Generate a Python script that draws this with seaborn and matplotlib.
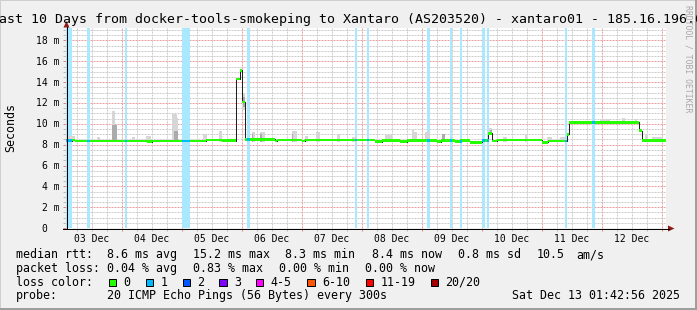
import numpy as np
import pandas as pd
import matplotlib
matplotlib.use("Agg")
import matplotlib.pyplot as plt
import matplotlib.dates as mdates
from matplotlib.ticker import MultipleLocator
from matplotlib.transforms import blended_transform_factory, ScaledTranslation
from matplotlib.patches import Rectangle, Polygon
from matplotlib.lines import Line2D
import seaborn as sns

# ---------------- data ----------------
START = pd.Timestamp("2025-12-03 01:42:56")
END = START + pd.Timedelta(days=10)

# median rtt (step changes): hours since start, ms
med_hours = [0, 2.4, 3.6, 32.4, 34.4, 56.0, 62.4, 68.0, 69.6, 70.3, 71.4, 83.6, 84.4,
             94.4, 95.6, 123.6, 126.3, 133.6, 136.3, 148.4, 150.0, 155.6, 157.6, 161.6,
             166.3, 168.9, 170.3, 172.3, 190.3, 192.9, 200.3, 201.3, 229.3, 230.3, 240.0]
med_ms = [8.40, 8.45, 8.35, 8.28, 8.35, 8.45, 8.40, 14.30, 15.15, 12.10, 8.50, 8.35, 8.45,
          8.35, 8.45, 8.30, 8.40, 8.30, 8.40, 8.30, 8.40, 8.30, 8.40, 8.25,
          8.40, 9.10, 8.35, 8.45, 8.22, 8.35, 9.00, 10.15, 9.35, 8.40, 8.40]

# intervals with 1 lost ping (hours since start)
loss_start = [0.0, 8.4, 23.6, 46.3, 72.3, 115.6, 120.3, 144.4, 153.6, 157.5, 166.4, 168.3, 199.7, 210.4]
loss_end = [2.3, 9.6, 24.4, 49.6, 73.6, 116.5, 121.3, 145.5, 154.4, 158.4, 167.5, 169.3, 200.5, 211.6]

# smoke (spread of pings): light layer
smoke_t0 = [0.0, 12.3, 18.3, 19.6, 26.3, 32.0, 42.3, 44.3, 54.8, 61.2, 70.3, 74.3, 77.6, 90.3,
            95.6, 100.0, 108.3, 114.3, 127.6, 138.3, 139.2, 143.6, 150.3, 169.2, 174.8, 183.6,
            192.4, 197.6, 213.6, 222.3, 227.6, 231.6, 234.3]
smoke_t1 = [3.6, 13.6, 19.6, 20.4, 27.6, 33.9, 44.3, 44.8, 56.4, 62.4, 71.4, 75.6, 79.6, 92.3,
            96.8, 101.6, 109.6, 116.3, 130.3, 139.2, 140.3, 145.6, 151.6, 170.4, 176.4, 184.4,
            194.4, 199.6, 217.6, 223.6, 228.4, 232.8, 238.8]
smoke_lo = [8.3, 8.3, 8.3, 8.3, 8.3, 8.3, 8.3, 8.3, 8.3, 8.3, 11.35, 8.3, 8.3, 8.3,
            8.3, 8.3, 8.3, 8.3, 8.3, 8.3, 8.3, 8.3, 8.3, 9.1, 8.3, 8.3,
            8.3, 8.3, 10.1, 10.1, 10.1, 8.3, 8.3]
smoke_hi = [8.8, 8.7, 11.2, 9.4, 8.75, 8.8, 10.9, 10.6, 9.0, 9.3, 13.0, 9.2, 9.2, 9.35,
            8.8, 9.2, 9.0, 8.75, 8.9, 9.55, 9.2, 9.2, 8.8, 9.6, 8.75, 9.0,
            8.75, 8.75, 10.45, 10.6, 10.5, 9.0, 8.75]
# smoke: darker core
dark_t0 = [18.3, 43.0, 70.6, 74.3, 77.6, 90.3, 150.3, 169.6]
dark_t1 = [20.4, 44.6, 71.4, 74.8, 78.4, 90.8, 151.6, 170.2]
dark_lo = [8.3, 8.3, 11.6, 8.3, 8.3, 8.3, 8.3, 9.1]
dark_hi = [9.9, 9.3, 12.6, 9.0, 9.0, 9.0, 9.0, 9.4]

y_ticks = [0, 2, 4, 6, 8, 10, 12, 14, 16, 18]
y_tick_labels = ["0", "2 m", "4 m", "6 m", "8 m", "10 m", "12 m", "14 m", "16 m", "18 m"]

med_stats = [8.6, 15.2, 8.3, 8.4, 0.8, 10.5]
loss_stats = [0.04, 0.83, 0.00, 0.00]
loss_labels = ["0", "1", "2", "3", "4-5", "6-10", "11-19", "20/20"]
loss_colors = ["#26ff00", "#00b8ff", "#0059ff", "#7e00ff", "#ff00ff", "#ff5500", "#ff0000", "#a10000"]

title = "Last 10 Days from docker-tools-smokeping to Xantaro (AS203520) - xantaro01 - 185.16.196.69"
probe_text = "20 ICMP Echo Pings (56 Bytes) every 300s"
stamp_text = "Sat Dec 13 01:42:56 2025"

# ---------------- helpers ----------------
W, H = 697, 310
PL, PR, PT, PB = 66, 666, 28, 228
YMAX = 19.2
MONO = "DejaVu Sans Mono"
PX = 0.72  # one pixel in points


def to_dt(h):
    return (START + pd.to_timedelta(np.asarray(h, dtype=float), unit="h")).to_numpy()


def fx(px):
    return px / W


def fy(py):
    return 1 - py / H


fig = plt.figure(figsize=(W / 100, H / 100), dpi=100, facecolor="#f0f0f0")
ax = fig.add_axes([fx(PL), fy(PB), (PR - PL) / W, (PB - PT) / H])
ax.set_facecolor("white")
for s in ax.spines.values():
    s.set_visible(False)

# loss background bands
for a, b in zip(loss_start, loss_end):
    ax.axvspan(to_dt([a])[0], to_dt([b])[0], color="#aae8ff", lw=0, zorder=1)

# smoke
for a, b, lo, hi in zip(smoke_t0, smoke_t1, smoke_lo, smoke_hi):
    ax.fill_between(to_dt([a, b]), [lo, lo], [hi, hi], color="#d6d6d6", lw=0, zorder=2)
for a, b, lo, hi in zip(dark_t0, dark_t1, dark_lo, dark_hi):
    ax.fill_between(to_dt([a, b]), [lo, lo], [hi, hi], color="#ababab", lw=0, zorder=2.1)

# median thin black line
med_dt = to_dt(med_hours)
df = pd.DataFrame({"t": med_dt, "ms": med_ms})
sns.lineplot(data=df, x="t", y="ms", ax=ax, estimator=None, drawstyle="steps-post",
             color="#202020", lw=PX, zorder=3)

# coloured median band (loss colour)
med_arr = np.array(med_ms)
sw = 0.14
ax.fill_between(med_dt, med_arr - sw, med_arr + sw, step="post", color=loss_colors[0], lw=0, zorder=4)
mh = np.array(med_hours)
for a, b in zip(loss_start, loss_end):
    i = np.searchsorted(mh, a, side="right") - 1
    v = med_arr[i]
    ax.fill_between(to_dt([a, b]), [v - sw] * 2, [v + sw] * 2, color=loss_colors[1], lw=0, zorder=4.1)

ax.set_xlim(START.to_numpy(), END.to_numpy())
ax.set_ylim(0, YMAX)
ax.set_xlabel("")
ax.set_ylabel("")

# grid
ax.set_axisbelow(True)
ax.yaxis.set_major_locator(MultipleLocator(2))
ax.yaxis.set_minor_locator(MultipleLocator(0.5))
ax.xaxis.set_major_locator(mdates.DayLocator())
ax.xaxis.set_minor_locator(mdates.HourLocator(byhour=[6, 12, 18]))
ax.grid(which="minor", color="#cccccc", lw=PX, linestyle=(0, (2, 1)))
ax.grid(which="major", color="#eba0a0", lw=PX, linestyle=(0, (2, 1)))
ax.tick_params(which="major", direction="out", length=3 * PX, width=PX, color="#e08080",
               labelbottom=False, labelleft=False)
ax.tick_params(which="minor", direction="out", length=3 * PX, width=PX, color="#bbbbbb")

# y tick labels
ty = blended_transform_factory(fig.transFigure, ax.transData) + ScaledTranslation(0, -0.035, fig.dpi_scale_trans)
for v, lab in zip(y_ticks, y_tick_labels):
    xr = 59.5 if v else 47.0
    ax.text(fx(xr), v, lab, transform=ty, ha="right", va="baseline", fontsize=7, family=MONO, color="black")

# x tick labels at noon
tx = blended_transform_factory(ax.transData, fig.transFigure)
for d in pd.date_range(START.normalize(), END.normalize(), freq="D"):
    noon = d + pd.Timedelta(hours=12)
    if START <= noon <= END:
        ax.text(mdates.date2num(noon), fy(241.5), noon.strftime("%d %b"), transform=tx,
                ha="center", va="baseline", fontsize=7, family=MONO, color="black")

# axes lines and arrows
fig.add_artist(Line2D([fx(66.5), fx(66.5)], [fy(27), fy(228.5)], color="black", lw=PX))
fig.add_artist(Line2D([fx(63), fx(669)], [fy(228.5), fy(228.5)], color="black", lw=PX))
fig.add_artist(Polygon([[fx(63.5), fy(27.5)], [fx(69.5), fy(27.5)], [fx(66.5), fy(21)]],
                       closed=True, color="#8e1a1a", lw=0))
fig.add_artist(Polygon([[fx(668), fy(225.5)], [fx(668), fy(231.5)], [fx(674.5), fy(228.5)]],
                       closed=True, color="#8e1a1a", lw=0))

# title and side texts
FS = 8.35
fig.text(fx(350.5), fy(23), title, ha="center", va="baseline", fontsize=9.55, family=MONO)
fig.text(fx(10.5), fy(128), "Seconds", rotation=90, ha="center", va="center", fontsize=FS, family=MONO)
fig.text(fx(688), fy(5), "RRDTOOL / TOBI OETIKER", rotation=270, ha="center", va="top",
         fontsize=5.9, family=MONO, color="#a8a8a8")

# legend
r1 = ["median rtt:", f"{med_stats[0]:.1f} ms avg", f"{med_stats[1]:.1f} ms max", f"{med_stats[2]:.1f} ms min",
      f"{med_stats[3]:.1f} ms now", f"{med_stats[4]:.1f} ms sd", f"{med_stats[5]:.1f}", "am/s"]
r1x = [16, 106.7, 193.3, 285, 371.7, 458.3, 536.7, 576.7]
for t, x in zip(r1, r1x):
    fig.text(fx(x), fy(258.3), t, ha="left", va="baseline", fontsize=FS, family=MONO)
r2 = ["packet loss:", f"{loss_stats[0]:.2f} % avg", f"{loss_stats[1]:.2f} % max",
      f"{loss_stats[2]:.2f} % min", f"{loss_stats[3]:.2f} % now"]
r2x = [16, 106.7, 193.3, 279.3, 365]
for t, x in zip(r2, r2x):
    fig.text(fx(x), fy(271.7), t, ha="left", va="baseline", fontsize=FS, family=MONO)
fig.text(fx(16), fy(285.7), "loss color:", ha="left", va="baseline", fontsize=FS, family=MONO)
box_x = [108.7, 145.7, 182.7, 219.3, 256, 307.3, 365.7, 430.7]
for lab, col, bx in zip(loss_labels, loss_colors, box_x):
    fig.add_artist(Rectangle((fx(bx), fy(286)), 7.3 / W, 7.5 / H, facecolor=col, edgecolor="black", lw=PX))
    fig.text(fx(bx + 14.5), fy(285.7), lab, ha="left", va="baseline", fontsize=FS, family=MONO)
fig.text(fx(16), fy(299.3), "probe:", ha="left", va="baseline", fontsize=FS, family=MONO)
fig.text(fx(106.7), fy(299.3), probe_text, ha="left", va="baseline", fontsize=FS, family=MONO)
fig.text(fx(680.5), fy(299.3), stamp_text, ha="right", va="baseline", fontsize=FS, family=MONO)

# frame
fig.add_artist(Rectangle((0, 0), 1, 2 / H, color="#9e9e9e", lw=0))
fig.add_artist(Rectangle((1 - 2 / W, 0), 2 / W, 1, color="#9e9e9e", lw=0))
fig.add_artist(Rectangle((0, 1 - 1 / H), 1 - 2 / W, 1 / H, color="#cfcfcf", lw=0))
fig.add_artist(Rectangle((0, 2 / H), 1 / W, 1, color="#cfcfcf", lw=0))

fig.savefig("out.png", dpi=100, facecolor=fig.get_facecolor())
